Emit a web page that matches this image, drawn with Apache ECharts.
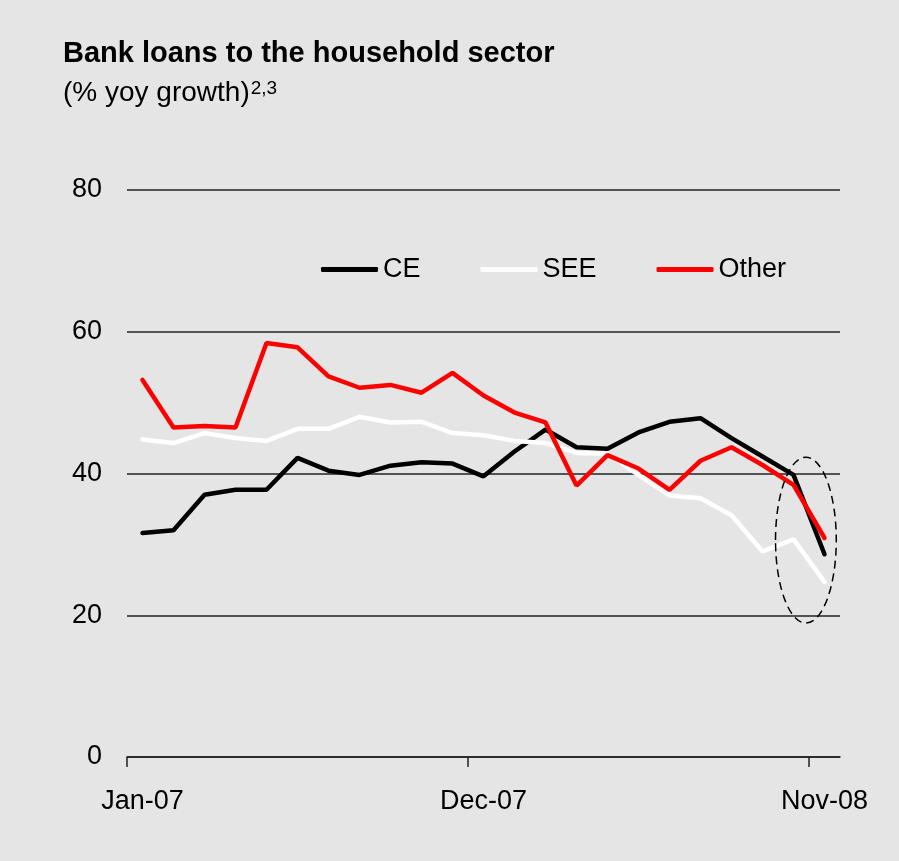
<!DOCTYPE html>
<html>
<head>
<meta charset="utf-8">
<script src="https://cdn.jsdelivr.net/npm/echarts@6/dist/echarts.min.js"></script>
<style>
  html, body { margin: 0; padding: 0; background: #e5e5e5; }
  #main { width: 899px; height: 861px; }
</style>
</head>
<body>
<div id="main"></div>
<script>
// months Jan-07 .. Nov-08
const months = ['Jan-07', 'Feb-07', 'Mar-07', 'Apr-07', 'May-07', 'Jun-07', 'Jul-07', 'Aug-07',
  'Sep-07', 'Oct-07', 'Nov-07', 'Dec-07', 'Jan-08', 'Feb-08', 'Mar-08', 'Apr-08', 'May-08',
  'Jun-08', 'Jul-08', 'Aug-08', 'Sep-08', 'Oct-08', 'Nov-08'];
const xTickLabels = ['Jan-07', 'Dec-07', 'Nov-08'];
const yTicks = [0, 20, 40, 60, 80];

const ce = [31.6, 32.0, 37.0, 37.7, 37.7, 42.2, 40.4, 39.8, 41.1, 41.6, 41.4, 39.6,
  43.1, 46.2, 43.7, 43.5, 45.8, 47.3, 47.8, 45.0, 42.4, 39.8, 28.6];
const see = [44.8, 44.3, 45.7, 45.0, 44.6, 46.3, 46.3, 48.0, 47.2, 47.3, 45.7, 45.4,
  44.6, 44.3, 42.9, 42.8, 39.8, 36.9, 36.5, 34.1, 29.0, 30.7, 24.7];
const other = [53.2, 46.5, 46.7, 46.5, 58.4, 57.8, 53.7, 52.1, 52.5, 51.4, 54.2, 51.0,
  48.6, 47.2, 38.3, 42.6, 40.7, 37.7, 41.8, 43.7, 41.2, 38.4, 30.9];

// tick marks sit on month boundaries
const tickBoundaries = xTickLabels.map(m => months.indexOf(m));

const font = 'Liberation Sans, Arial, sans-serif';
const chart = echarts.init(document.getElementById('main'));

const lineSeries = (name, data, color) => ({
  name: name,
  type: 'line',
  data: data,
  symbol: 'none',
  color: color,
  lineStyle: { color: color, width: 4.5, cap: 'round' },
  z: 3
});

const option = {
  backgroundColor: '#e5e5e5',
  animation: false,
  textStyle: { fontFamily: font },
  title: {
    left: 63,
    top: 39,
    padding: 0,
    itemGap: 11,
    text: 'Bank loans to the household sector',
    textStyle: { fontFamily: font, fontSize: 29, fontWeight: 'bold', color: '#000' },
    subtext: '(% yoy growth){sup|2,3}',
    subtextStyle: {
      fontFamily: font, fontSize: 28, color: '#000',
      rich: { sup: { fontFamily: font, fontSize: 19, color: '#000', verticalAlign: 'top', padding: [0, 0, 10, 1] } }
    }
  },
  legend: {
    left: 316,
    top: 251,
    itemGap: 60,
    itemWidth: 57,
    itemHeight: 5,
    icon: 'roundRect',
    textStyle: { fontFamily: font, fontSize: 27, color: '#000' },
    data: ['CE', 'SEE', 'Other']
  },
  grid: { left: 127, right: 59, top: 190, bottom: 104, containLabel: false },
  xAxis: [{
    type: 'category',
    data: months,
    boundaryGap: true,
    axisLine: { show: true, lineStyle: { color: '#222', width: 1.5 } },
    axisTick: { show: false },
    axisLabel: {
      interval: 10,
      margin: 31,
      fontFamily: font, fontSize: 27, color: '#000',
      formatter: v => (xTickLabels.includes(v) ? v : '')
    },
    splitLine: { show: false }
  }, {
    type: 'value',
    position: 'bottom',
    min: 0,
    max: months.length,
    axisLine: { show: false },
    axisLabel: { show: false },
    splitLine: { show: false },
    axisTick: {
      show: true,
      customValues: tickBoundaries,
      length: 10,
      lineStyle: { color: '#222', width: 1.5 }
    }
  }],
  yAxis: {
    type: 'value',
    min: yTicks[0],
    max: yTicks[yTicks.length - 1],
    interval: 20,
    axisLine: { show: false },
    axisTick: { show: false },
    axisLabel: { margin: 25, fontFamily: font, fontSize: 27, color: '#000' },
    splitLine: { show: true, lineStyle: { color: '#222', width: 1.5 } }
  },
  series: [
    lineSeries('CE', ce, '#000000'),
    lineSeries('SEE', see, '#ffffff'),
    lineSeries('Other', other, '#ff0000')
  ]
};

chart.setOption(option);

// dashed ellipse marking the latest readings (in month / value units)
const ring = { month: 21.9, value: 30.6, halfMonths: 0.98, halfValue: 11.7 };
const c = chart.convertToPixel({ xAxisIndex: 1, yAxisIndex: 0 }, [ring.month, ring.value]);
const e = chart.convertToPixel({ xAxisIndex: 1, yAxisIndex: 0 },
  [ring.month + ring.halfMonths, ring.value + ring.halfValue]);
chart.setOption({
  graphic: [{
    type: 'ellipse',
    shape: { cx: c[0], cy: c[1], rx: Math.abs(e[0] - c[0]), ry: Math.abs(c[1] - e[1]) },
    style: { fill: 'none', stroke: '#000', lineWidth: 1.5, lineDash: [8, 5] },
    z: 10
  }]
});
</script>
</body>
</html>
